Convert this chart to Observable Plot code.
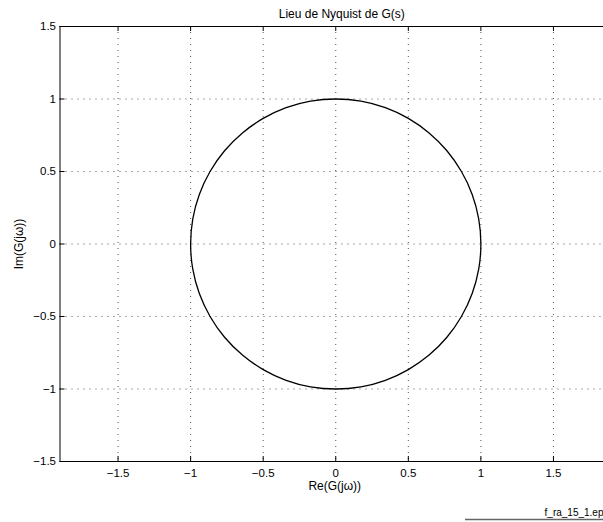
<!DOCTYPE html>
<html>
<head>
<meta charset="utf-8">
<script src="https://cdn.jsdelivr.net/npm/d3@7"></script>
<script src="https://cdn.jsdelivr.net/npm/@observablehq/plot@0.6"></script>
<style>
  html, body { margin: 0; padding: 0; background: #fff; }
  #chart { width: 603px; height: 522px; overflow: hidden; position: relative; }
  #chart svg { max-width: none !important; height: 522px !important; display: block; }
</style>
</head>
<body>
<div id="chart"></div>
<script>
// Text
const titleText = "Lieu de Nyquist de G(s)";
const xLabel = "Re(G(jω))";
const yLabel = "Im(G(jω))";
const captionText = "f_ra_15_1.ep";

// Axes
const xTicks = [-1.5, -1, -0.5, 0, 0.5, 1, 1.5];
const yTicks = [-1.5, -1, -0.5, 0, 0.5, 1, 1.5];
const xDomain = [-1.9, 1.9];
const yDomain = [-1.5, 1.5];

// Nyquist locus samples: real and imaginary parts of G(jω)
const re = [1.000, 0.985, 0.940, 0.866, 0.766, 0.643, 0.500, 0.342, 0.174, 0.000,
            -0.174, -0.342, -0.500, -0.643, -0.766, -0.866, -0.940, -0.985, -1.000,
            -0.985, -0.940, -0.866, -0.766, -0.643, -0.500, -0.342, -0.174, 0.000,
            0.174, 0.342, 0.500, 0.643, 0.766, 0.866, 0.940, 0.985];
const im = [0.000, 0.174, 0.342, 0.500, 0.643, 0.766, 0.866, 0.940, 0.985, 1.000,
            0.985, 0.940, 0.866, 0.766, 0.643, 0.500, 0.342, 0.174, 0.000,
            -0.174, -0.342, -0.500, -0.643, -0.766, -0.866, -0.940, -0.985, -1.000,
            -0.985, -0.940, -0.866, -0.766, -0.643, -0.500, -0.342, -0.174];

const locus = re.map((r, i) => ({re: r, im: im[i]}));

// Layout
const W = 611, H = 522;
const mL = 59.5, mR = 0, mT = 26, mB = 61;
const frameW = W - mL - mR, frameH = H - mT - mB;
const tickLen = 5;
const fmt = d => String(d).replace("-", "\u2212");
const gridStyle = {stroke: "#555", strokeOpacity: 1, strokeWidth: 1, strokeDasharray: "1,5"};

const svg = Plot.plot({
  width: W,
  height: H,
  marginLeft: mL,
  marginRight: mR,
  marginTop: mT,
  marginBottom: mB,
  style: {fontFamily: "'Liberation Sans', Arial, Helvetica, sans-serif", fontSize: "11.5px", background: "#fff", color: "#000", maxWidth: "none"},
  x: {domain: xDomain},
  y: {domain: yDomain},
  marks: [
    Plot.gridX(xTicks, gridStyle),
    Plot.gridY(yTicks, gridStyle),
    Plot.line(locus, {x: "re", y: "im", curve: "catmull-rom-closed", stroke: "#000", strokeWidth: 1.3}),
    // inward tick marks on all four sides
    Plot.tickX(xTicks, {x: d => d, insetTop: frameH - tickLen, stroke: "#000"}),
    Plot.tickX(xTicks, {x: d => d, insetBottom: frameH - tickLen, stroke: "#000"}),
    Plot.tickY(yTicks, {y: d => d, insetRight: frameW - tickLen, stroke: "#000"}),
    Plot.tickY(yTicks, {y: d => d, insetLeft: frameW - tickLen, stroke: "#000"}),
    // axes box
    Plot.ruleY(yDomain, {stroke: "#000"}),
    Plot.ruleX(xDomain, {stroke: "#000"}),
    Plot.axisX(xTicks, {tickSize: 0, tickPadding: 7, tickFormat: fmt, label: null}),
    Plot.axisY(yTicks, {tickSize: 0, tickPadding: 4, tickFormat: fmt, label: null}),
    Plot.text([titleText], {text: d => d, frameAnchor: "top", dx: 6, dy: -12, textAnchor: "middle", lineAnchor: "middle", fontSize: 12}),
    Plot.text([xLabel], {text: d => d, frameAnchor: "bottom", dx: -1, dy: 25, textAnchor: "middle", lineAnchor: "middle", fontSize: 12}),
    Plot.text([yLabel], {text: d => d, frameAnchor: "left", dx: -41, rotate: -90, textAnchor: "middle", lineAnchor: "middle", fontSize: 12}),
    Plot.text([captionText], {text: d => d, frameAnchor: "bottom-right", dx: -8, dy: 51, textAnchor: "end", lineAnchor: "middle", fontSize: 10})
  ]
});

// rule under the file caption
d3.select(svg).append("line")
  .attr("x1", 465).attr("x2", W)
  .attr("y1", 519.5).attr("y2", 519.5)
  .attr("stroke", "#666").attr("stroke-width", 1.5);

svg.style.maxWidth = "none";
document.getElementById("chart").append(svg);
</script>
</body>
</html>
